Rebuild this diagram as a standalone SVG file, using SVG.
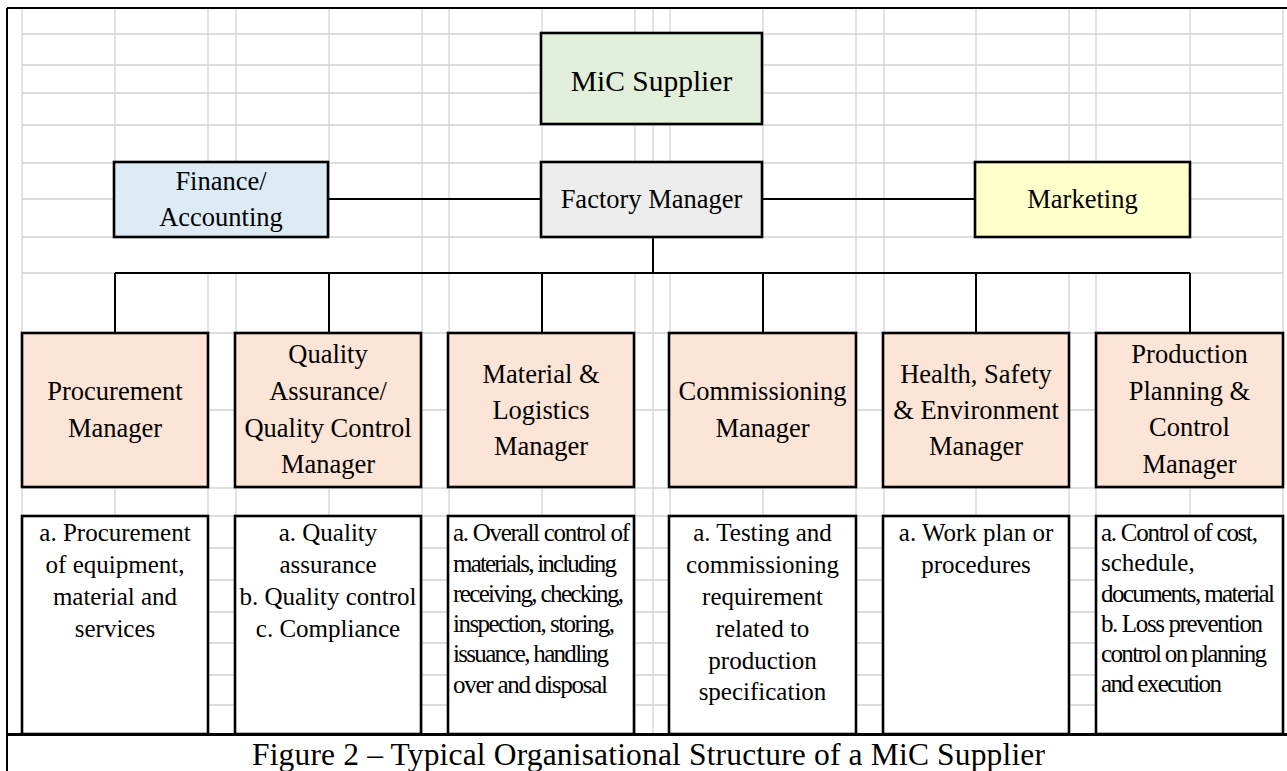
<svg xmlns="http://www.w3.org/2000/svg" width="1287" height="771" viewBox="0 0 1287 771">
<style>
.grid{stroke:#D4D4D4;stroke-width:1.3;fill:none}
.frame{stroke:#000;fill:none}
.box{stroke:#000;stroke-width:2.6}
.mgr{fill:#FCE4D6}
.desc{fill:#FFFFFF}
.conn{stroke:#000;stroke-width:2;fill:none}
text{font-family:"Liberation Serif","Times New Roman",serif;fill:#000}
.t0{font-size:29.5px;text-anchor:middle}
.t1{font-size:26.5px;text-anchor:middle}
.t2{font-size:25px;text-anchor:middle}
.tl{font-size:25px}
.cap{font-size:31.5px;text-anchor:middle}
</style>
<rect x="0" y="0" width="1287" height="771" fill="#FFFFFF"/>
<g id="grid">
<path class="grid" d="M22,8V735M115,8V735M208,8V735M236,8V735M329,8V735M422,8V735M449,8V735M542,8V735M635,8V735M653,8V735M670,8V735M763,8V735M856,8V735M884,8V735M976,8V735M1069,8V735M1096,8V735M1190,8V735M1283,8V735"/>
<path class="grid" d="M22,34H1283M22,65H1283M22,93H1283M22,125H1283M22,163H1283M22,199H1283M22,237H1283M22,273H1283M22,333H1283M22,410H1283M22,488H1283M22,516H1283M22,548H1283M22,580H1283M22,612H1283M22,643H1283M22,675H1283M22,705H1283"/>
<rect x="23" y="238" width="398" height="34" fill="#FFFFFF"/>
<rect x="450" y="238" width="405" height="34" fill="#FFFFFF"/>
<rect x="885" y="238" width="397" height="34" fill="#FFFFFF"/>
</g>
<g id="frame">
<path class="frame" stroke-width="2" d="M7,8H1287M7,8V771"/>
<path class="frame" stroke-width="3" d="M7,734.5H1287"/>
</g>
<g id="connectors">
<path class="conn" d="M328,199H541M762,199H975M653,237V273M115,273H1190M115,273V333M329,273V333M542,273V333M763,273V333M976,273V333M1190,273V333"/>
</g>
<g id="mic-supplier">
<rect class="box" x="541" y="33" width="221" height="91" fill="#E2EFDA"/>
<text class="t0" x="651.5" y="90.5">MiC Supplier</text>
</g>
<g id="finance">
<rect class="box" x="114" y="162" width="214" height="75" fill="#DDEBF7"/>
<text class="t1" x="221" y="190">Finance/</text>
<text class="t1" x="221" y="226">Accounting</text>
</g>
<g id="factory-manager">
<rect class="box" x="541" y="162" width="221" height="75" fill="#EDEDED"/>
<text class="t1" x="651.5" y="208">Factory Manager</text>
</g>
<g id="marketing">
<rect class="box" x="975" y="162" width="215" height="75" fill="#FFFFCC"/>
<text class="t1" x="1082.5" y="208">Marketing</text>
</g>
<g id="procurement-manager">
<rect class="box mgr" x="22" y="333" width="186" height="154"/>
<text class="t1" x="115" y="399.5">Procurement</text>
<text class="t1" x="115" y="436.5">Manager</text>
</g>
<g id="qa-qc-manager">
<rect class="box mgr" x="235" y="333" width="186" height="154"/>
<text class="t1" x="328" y="363">Quality</text>
<text class="t1" x="328" y="400">Assurance/</text>
<text class="t1" x="328" y="436.5">Quality Control</text>
<text class="t1" x="328" y="472.5">Manager</text>
</g>
<g id="material-logistics-manager">
<rect class="box mgr" x="448" y="333" width="186" height="154"/>
<text class="t1" x="541" y="382.5">Material &amp;</text>
<text class="t1" x="541" y="418.5">Logistics</text>
<text class="t1" x="541" y="455">Manager</text>
</g>
<g id="commissioning-manager">
<rect class="box mgr" x="669" y="333" width="187" height="154"/>
<text class="t1" x="762.5" y="400">Commissioning</text>
<text class="t1" x="762.5" y="436.5">Manager</text>
</g>
<g id="hse-manager">
<rect class="box mgr" x="883" y="333" width="186" height="154"/>
<text class="t1" x="976" y="382.5">Health, Safety</text>
<text class="t1" x="976" y="418.5">&amp; Environment</text>
<text class="t1" x="976" y="455">Manager</text>
</g>
<g id="production-manager">
<rect class="box mgr" x="1096" y="333" width="187" height="154"/>
<text class="t1" x="1189.5" y="363">Production</text>
<text class="t1" x="1189.5" y="399.5">Planning &amp;</text>
<text class="t1" x="1189.5" y="436">Control</text>
<text class="t1" x="1189.5" y="472.5">Manager</text>
</g>
<g id="procurement-duties">
<rect class="box desc" x="22" y="516" width="186" height="218"/>
<text class="t2" x="115" y="541">a. Procurement</text>
<text class="t2" x="115" y="573">of equipment,</text>
<text class="t2" x="115" y="605">material and</text>
<text class="t2" x="115" y="637">services</text>
</g>
<g id="qa-qc-duties">
<rect class="box desc" x="235" y="516" width="186" height="218"/>
<text class="t2" x="328" y="541">a. Quality</text>
<text class="t2" x="328" y="573">assurance</text>
<text class="t2" x="328" y="605">b. Quality control</text>
<text class="t2" x="328" y="637">c. Compliance</text>
</g>
<g id="material-duties">
<rect class="box desc" x="448" y="516" width="186" height="218"/>
<text class="tl" x="453" y="541" textLength="177">a. Overall control of</text>
<text class="tl" x="453" y="571.5" textLength="164">materials, including</text>
<text class="tl" x="453" y="601.5" textLength="171">receiving, checking,</text>
<text class="tl" x="453" y="631.5" textLength="162">inspection, storing,</text>
<text class="tl" x="453" y="662" textLength="156">issuance, handling</text>
<text class="tl" x="453" y="692.5" textLength="155">over and disposal</text>
</g>
<g id="commissioning-duties">
<rect class="box desc" x="669" y="516" width="187" height="218"/>
<text class="t2" x="762.5" y="541">a. Testing and</text>
<text class="t2" x="762.5" y="573">commissioning</text>
<text class="t2" x="762.5" y="605">requirement</text>
<text class="t2" x="762.5" y="637">related to</text>
<text class="t2" x="762.5" y="668.5">production</text>
<text class="t2" x="762.5" y="700">specification</text>
</g>
<g id="hse-duties">
<rect class="box desc" x="883" y="516" width="186" height="218"/>
<text class="t2" x="976" y="541">a. Work plan or</text>
<text class="t2" x="976" y="573">procedures</text>
</g>
<g id="production-duties">
<rect class="box desc" x="1096" y="516" width="187" height="218"/>
<text class="tl" x="1101" y="541" textLength="157">a. Control of cost,</text>
<text class="tl" x="1101" y="571">schedule,</text>
<text class="tl" x="1101" y="602" textLength="174">documents, material</text>
<text class="tl" x="1101" y="632" textLength="162">b. Loss prevention</text>
<text class="tl" x="1101" y="662" textLength="166">control on planning</text>
<text class="tl" x="1101" y="692" textLength="121">and execution</text>
</g>
<g id="caption">
<text class="cap" x="648.5" y="765" textLength="793">Figure 2 – Typical Organisational Structure of a MiC Supplier</text>
</g>
</svg>
